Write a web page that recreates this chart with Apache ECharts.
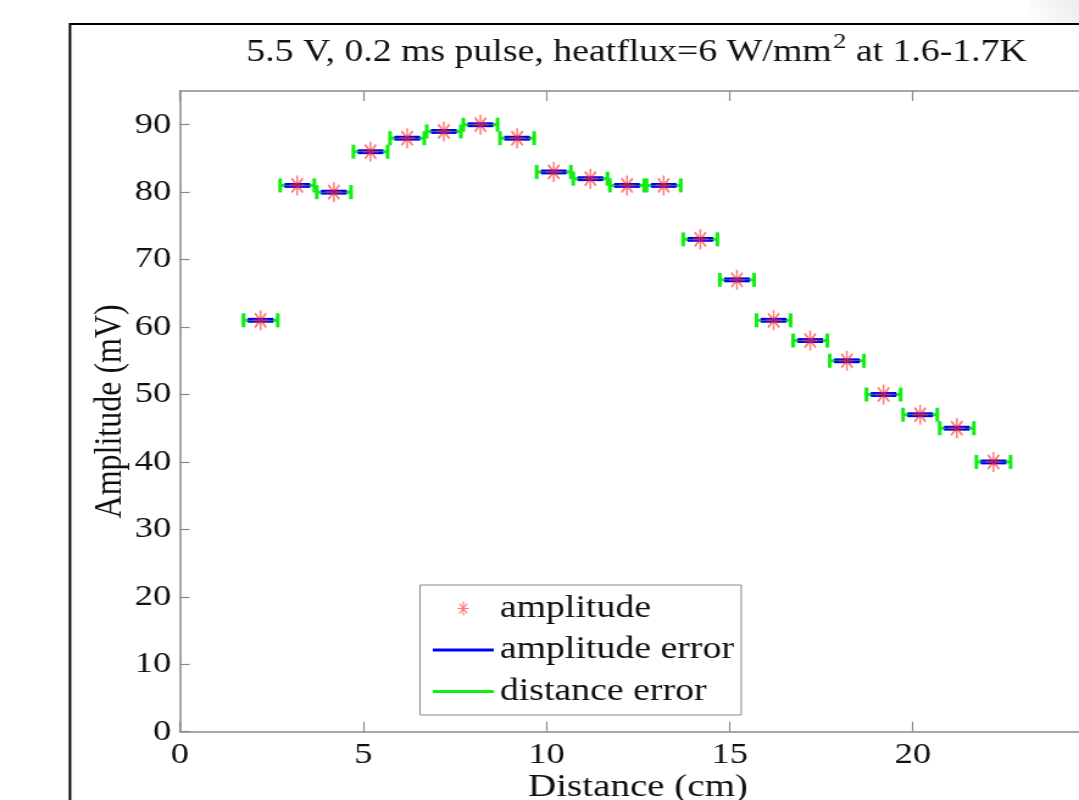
<!DOCTYPE html>
<html>
<head>
<meta charset="utf-8">
<script src="https://cdn.jsdelivr.net/npm/echarts@6/dist/echarts.min.js"></script>
<style>
  html, body { margin: 0; padding: 0; background: #fff; overflow: hidden; }
  /* the reference picture is stretched sideways, so the chart is drawn narrower and widened */
  #chart { width: 885px; height: 800px; transform: scaleX(1.2192); transform-origin: 0 0; }
</style>
</head>
<body>
<div id="chart"></div>
<script>
// data
const distance = [2.2, 3.2, 4.2, 5.2, 6.2, 7.2, 8.2, 9.2, 10.2, 11.2, 12.2, 13.2, 14.2, 15.2, 16.2, 17.2, 18.2, 19.2, 20.2, 21.2, 22.2]
const amplitude = [61, 81, 80, 86, 88, 89, 90, 88, 83, 82, 81, 81, 73, 67, 61, 58, 55, 50, 47, 45, 40]
const amplitudeError = [0.2, 0.2, 0.2, 0.2, 0.2, 0.2, 0.2, 0.2, 0.2, 0.2, 0.2, 0.2, 0.2, 0.2, 0.2, 0.2, 0.2, 0.2, 0.2, 0.2, 0.2]
const distanceError = [0.5, 0.5, 0.5, 0.5, 0.5, 0.5, 0.5, 0.5, 0.5, 0.5, 0.5, 0.5, 0.5, 0.5, 0.5, 0.5, 0.5, 0.5, 0.5, 0.5, 0.5]
const seriesNames = ['amplitude', 'amplitude error', 'distance error']

const font = 'Liberation Serif'
const red = 'rgba(255, 40, 40, 0.8)'
const blue = '#0000ff'
const green = '#12ee12'

// asterisk built from four thin bars
function starPath(cx, cy, rx, ry, t) {
  let p = ''
  ;[0, 45, 90, 135].forEach(a => {
    const r = a * Math.PI / 180
    const dx = Math.cos(r) * rx
    const dy = Math.sin(r) * ry
    const len = Math.sqrt(dx * dx + dy * dy)
    const px = -dy / len * t
    const py = dx / len * t
    const f = v => v.toFixed(2)
    p += 'M' + f(cx + dx + px) + ',' + f(cy + dy + py) +
      'L' + f(cx + dx - px) + ',' + f(cy + dy - py) +
      'L' + f(cx - dx - px) + ',' + f(cy - dy - py) +
      'L' + f(cx - dx + px) + ',' + f(cy - dy + py) + 'Z'
  })
  return p
}

const starSymbol = 'path://' + starPath(10, 10, 10, 10, 1.1)
const starIcon = 'path://M0,0M50,20' + starPath(25, 10, 4.5, 7, 0.55)
const lineIcon = 'path://M0,0M50,20M0,8.5L50,8.5L50,11.5L0,11.5Z'

function renderDistanceError(params, api) {
  const x = api.value(0)
  const y = api.value(1)
  const e = api.value(2)
  const a = api.coord([x - e, y])
  const b = api.coord([x + e, y])
  const style = { stroke: green, lineWidth: 3 }
  return {
    type: 'group',
    children: [
      { type: 'line', shape: { x1: a[0], y1: a[1], x2: b[0], y2: b[1] }, style: style },
      { type: 'line', shape: { x1: a[0] + 1, y1: a[1] - 7, x2: a[0] + 1, y2: a[1] + 7 }, style: style },
      { type: 'line', shape: { x1: b[0] - 1, y1: b[1] - 7, x2: b[0] - 1, y2: b[1] + 7 }, style: style }
    ]
  }
}

function renderAmplitudeError(params, api) {
  const x = api.value(0)
  const y = api.value(1)
  const e = api.value(2)
  const lo = api.coord([x, y - e])
  const hi = api.coord([x, y + e])
  const w = 10.5
  const style = { stroke: blue, lineWidth: 2.2 }
  return {
    type: 'group',
    children: [
      { type: 'line', shape: { x1: lo[0], y1: lo[1], x2: hi[0], y2: hi[1] }, style: style },
      { type: 'line', shape: { x1: lo[0] - w, y1: lo[1], x2: lo[0] + w, y2: lo[1] }, style: style },
      { type: 'line', shape: { x1: hi[0] - w, y1: hi[1], x2: hi[0] + w, y2: hi[1] }, style: style }
    ]
  }
}

const axisColor = '#8a8a8a'
const labelStyle = { fontFamily: font, fontSize: 30, color: '#111' }

const chart = echarts.init(document.getElementById('chart'))
chart.setOption({
  backgroundColor: '#fff',
  animation: false,
  title: {
    text: '5.5 V, 0.2 ms pulse, heatflux=6 W/mm{sup|2} at 1.6-1.7K',
    left: 197,
    top: 26,
    textStyle: {
      fontFamily: font,
      fontSize: 31,
      fontWeight: 'normal',
      color: '#111',
      rich: {
        sup: { fontFamily: font, fontSize: 22, color: '#111', padding: [0, 0, 22, 1] }
      }
    }
  },
  legend: {
    orient: 'vertical',
    left: 344.5,
    top: 585,
    itemWidth: 50,
    itemHeight: 20,
    itemGap: 10.5,
    padding: [8, 6, 8, 10.5],
    borderColor: '#8a8a8a',
    borderWidth: 1,
    backgroundColor: '#fff',
    selectedMode: false,
    textStyle: { fontFamily: font, fontSize: 31, color: '#111' },
    data: [
      { name: seriesNames[0], icon: starIcon },
      { name: seriesNames[1], icon: lineIcon },
      { name: seriesNames[2], icon: lineIcon }
    ]
  },
  grid: { left: 147.6, right: -14, top: 91, bottom: 68.3, outerBoundsMode: 'none' },
  xAxis: [
    {
      type: 'value',
      min: 0,
      max: 25,
      interval: 5,
      name: 'Distance (cm)',
      nameLocation: 'middle',
      nameGap: 40,
      nameMoveOverlap: false,
      nameTextStyle: { fontFamily: font, fontSize: 32, color: '#111' },
      axisLine: { lineStyle: { color: axisColor, width: 1.5 } },
      axisTick: { inside: true, length: 10, lineStyle: { color: axisColor, width: 1.2 } },
      axisLabel: Object.assign({ margin: 8 }, labelStyle),
      splitLine: { show: false }
    },
    {
      type: 'value',
      position: 'top',
      min: 0,
      max: 25,
      interval: 5,
      axisLine: { lineStyle: { color: axisColor, width: 1.5 } },
      axisTick: { inside: true, length: 10, lineStyle: { color: axisColor, width: 1.2 } },
      axisLabel: { show: false },
      splitLine: { show: false }
    }
  ],
  yAxis: {
    type: 'value',
    min: 0,
    max: 95,
    interval: 10,
    name: 'Amplitude (mV)',
    nameLocation: 'middle',
    nameGap: 41,
    nameMoveOverlap: false,
    nameTextStyle: { fontFamily: font, fontSize: 32, color: '#111' },
    axisLine: { show: true, lineStyle: { color: axisColor, width: 1.5 } },
    axisTick: { show: true, inside: true, length: 8, lineStyle: { color: axisColor, width: 1.2 } },
    axisLabel: Object.assign({ margin: 7, showMaxLabel: false }, labelStyle),
    splitLine: { show: false }
  },
  series: [
    {
      name: seriesNames[2],
      type: 'custom',
      z: 2,
      itemStyle: { color: green },
      renderItem: renderDistanceError,
      data: distance.map((d, i) => [d, amplitude[i], distanceError[i]])
    },
    {
      name: seriesNames[1],
      type: 'custom',
      z: 3,
      itemStyle: { color: blue },
      renderItem: renderAmplitudeError,
      data: distance.map((d, i) => [d, amplitude[i], amplitudeError[i]])
    },
    {
      name: seriesNames[0],
      type: 'scatter',
      z: 4,
      symbol: starSymbol,
      symbolSize: [13, 20],
      itemStyle: { color: red },
      data: distance.map((d, i) => [d, amplitude[i]])
    }
  ],
  graphic: [
    {
      type: 'rect',
      z: -10,
      silent: true,
      shape: { x: 57.4, y: 24, width: 900, height: 900 },
      style: { fill: 'none', stroke: '#000', lineWidth: 2 }
    },
    {
      type: 'rect',
      z: 100,
      silent: true,
      shape: { x: 845, y: 0, width: 40, height: 23 },
      style: {
        fill: new echarts.graphic.LinearGradient(0, 1, 1, 0, [
          { offset: 0, color: 'rgba(0,0,0,0)' },
          { offset: 1, color: 'rgba(0,0,0,0.08)' }
        ])
      }
    }
  ]
})
</script>
</body>
</html>
